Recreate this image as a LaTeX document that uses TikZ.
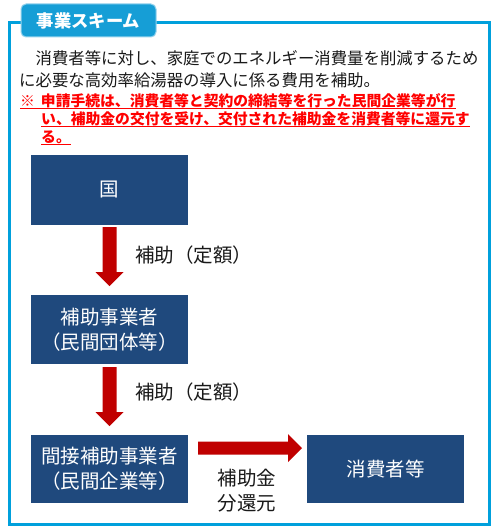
\documentclass[tikz,border=0pt]{standalone}
\usepackage{fontspec}
\newfontfamily\jp{Noto Sans CJK JP}
\usetikzlibrary{calc}
\definecolor{frameblue}{RGB}{0,160,220}
\definecolor{tabblue}{RGB}{22,158,214}
\definecolor{boxblue}{RGB}{31,73,125}
\definecolor{arrowred}{RGB}{192,0,0}
\definecolor{notered}{RGB}{255,0,0}
\definecolor{txt}{RGB}{25,25,25}
\tikzset{
  box/.style={fill=boxblue, text=white, minimum width=157pt, inner sep=0pt, outer sep=0pt,
    align=center, font=\jp\fontsize{19.5}{25}\selectfont},
  lbl/.style={text=txt, inner sep=0pt, align=center, font=\jp\fontsize{19.5}{25}\selectfont},
  body/.style={text=txt, inner sep=0pt, anchor=base west, font=\jp\fontsize{16.4}{20}\selectfont},
  note/.style={text=notered, inner sep=0pt, anchor=base west, font=\jp\bfseries\fontsize{14.8}{18}\selectfont},
  uline/.style={draw=notered, line width=1.3pt},
  flow/.style={fill=arrowred},
  tab/.style={fill=tabblue, draw=tabblue!45!white, line width=1pt, rounded corners=5pt, text=white, inner sep=0pt,
    minimum width=135pt, minimum height=33pt, font=\jp\bfseries\fontsize{17.3}{20}\selectfont}
}
\begin{document}
\begin{tikzpicture}[x=1pt,y=-1pt]
\useasboundingbox[fill=white] (0,0) rectangle (491,527);
% frame
\draw[frameblue, line width=3pt] (9.5,23) rectangle (489.5,524);
\node[tab] (title) at (88.5,20.5) {事業スキーム};
% body text
\node[body] (b1) at (19,64.5) {　消費者等に対し、家庭でのエネルギー消費量を削減するため};
\node[body] (b2) at (19,86) {に必要な高効率給湯器の導入に係る費用を補助。};
\node[note] (n1) at (20,106) {※\hspace{6pt}申請手続は、消費者等と契約の締結等を行った民間企業等が行};
\node[note] (n2) at (41,124) {い、補助金の交付を受け、交付された補助金を消費者等に還元す};
\node[note] (n3) at (41,142) {る。};
\draw[uline] ($(n1.base west)+(0,2.5)$) -- ($(n1.base east)+(0,2.5)$);
\draw[uline] ($(n2.base west)+(0,2.5)$) -- ($(n2.base east)+(0,2.5)$);
\draw[uline] ($(n3.base west)+(0,2.5)$) -- ($(n3.base east)+(0,2.5)$);
% boxes
\node[box, minimum height=70pt] (kuni) at (109.5,190) {国};
\node[box, minimum height=69pt] (hojo) at (109.5,329.5) {補助事業者\\（民間団体等）};
\node[box, minimum height=68pt] (kansetsu) at (109.5,469) {間接補助事業者\\（民間企業等）};
\node[box, minimum height=68pt] (shohi) at (385.5,469) {消費者等};
% arrows
\fill[flow] ($(kuni.south)+(-7,2)$) -- ($(kuni.south)+(7,2)$) -- ($(hojo.north)+(7,-23)$)
  -- ($(hojo.north)+(14,-23)$) -- ($(hojo.north)+(0,-9)$) -- ($(hojo.north)+(-14,-23)$)
  -- ($(hojo.north)+(-7,-23)$) -- cycle;
\fill[flow] ($(hojo.south)+(-7,3)$) -- ($(hojo.south)+(7,3)$) -- ($(kansetsu.north)+(7,-23)$)
  -- ($(kansetsu.north)+(14,-23)$) -- ($(kansetsu.north)+(0,-9)$) -- ($(kansetsu.north)+(-14,-23)$)
  -- ($(kansetsu.north)+(-7,-23)$) -- cycle;
\fill[flow] ($(kansetsu.east)+(10,-27.5)$) -- ($(shohi.west)+(-19,-27.5)$) -- ($(shohi.west)+(-19,-35)$)
  -- ($(shohi.west)+(-5,-21)$) -- ($(shohi.west)+(-19,-7)$) -- ($(shohi.west)+(-19,-14.5)$)
  -- ($(kansetsu.east)+(10,-14.5)$) -- cycle;
% labels
\node[lbl, anchor=west] (l1) at (135,255) {補助（定額）};
\node[lbl, anchor=west] (l2) at (135,392) {補助（定額）};
\node[lbl] (l3) at (247,490.5) {補助金\\分還元};
\end{tikzpicture}
\end{document}
